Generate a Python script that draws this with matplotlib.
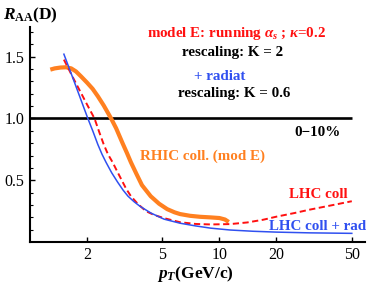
import matplotlib
matplotlib.use("Agg")
import matplotlib.pyplot as plt
from matplotlib.ticker import FixedLocator, NullLocator, NullFormatter

plt.rcParams['font.family'] = ['Liberation Serif', 'DejaVu Serif']
plt.rcParams['mathtext.fontset'] = 'custom'
plt.rcParams['mathtext.rm'] = 'Liberation Serif:bold'
plt.rcParams['mathtext.bf'] = 'Liberation Serif:bold'
plt.rcParams['mathtext.it'] = 'Liberation Serif:italic:bold'

# --- data ---
blue_x = [1.51, 1.7, 2.02, 2.15, 2.28, 2.4, 2.52, 2.7, 2.9, 3.1, 3.29, 3.55, 3.8, 4.34,
          5.1, 6.2, 7.5, 9.0, 11.4, 15, 20, 30, 50]
blue_y = [1.52, 1.31, 1.00, 0.895, 0.79, 0.71, 0.645, 0.56, 0.485, 0.42, 0.371, 0.325, 0.29, 0.235,
          0.185, 0.152, 0.13, 0.112, 0.097, 0.087, 0.08, 0.074, 0.07]

red_x = [1.51, 1.7, 2.0, 2.19, 2.32, 2.45, 2.58, 2.73, 2.9, 3.05, 3.22, 3.41, 3.7, 4.09, 4.5,
         5.1, 6.2, 7.5, 9.0, 11.4, 14, 17, 20, 25, 30, 40, 50]
red_y = [1.476, 1.32, 1.113, 1.00, 0.89, 0.79, 0.71, 0.645, 0.565, 0.50, 0.43, 0.371, 0.31, 0.25, 0.22,
         0.193, 0.16, 0.146, 0.142, 0.145, 0.158, 0.18, 0.205, 0.235, 0.262, 0.30, 0.33]

orange_x = [1.28, 1.35, 1.45, 1.55, 1.65, 1.75, 1.86, 2.0, 2.14, 2.28, 2.45, 2.68, 2.85, 3.08,
            3.25, 3.41, 3.65, 3.9, 4.34, 4.8, 5.3, 5.8, 6.2, 7.0, 7.9, 9.0, 10.0, 10.7, 11.2]
orange_y = [1.395, 1.405, 1.412, 1.414, 1.405, 1.38, 1.34, 1.29, 1.24, 1.18, 1.105, 1.0, 0.92, 0.80,
            0.72, 0.645, 0.55, 0.46, 0.37, 0.31, 0.266, 0.24, 0.226, 0.212, 0.204, 0.199, 0.194, 0.182, 0.162]

ref_level = 1.0
ref_xmax = 50

x_ticks = [2, 5, 10, 20, 50]
x_ticklabels = ['2', '5', '10', '20', '50']
y_ticks = [0.5, 1.0, 1.5]
y_ticklabels = ['0.5', '1.0', '1.5']
y_minor = [0.1, 0.2, 0.3, 0.4, 0.6, 0.7, 0.8, 0.9, 1.1, 1.2, 1.3, 1.4, 1.6, 1.7]

ORANGE = '#FF8020'
BLUE = '#3050F0'
RED = '#FF1010'

W, H = 374, 286
fig = plt.figure(figsize=(W / 100, H / 100), dpi=100)
ax = fig.add_axes([30 / W, 1 - 242 / H, 335 / W, 215 / H])

ax.set_xscale('log')
ax.set_xlim(1.0, 58.7)
ax.set_ylim(0, 1.74)

ax.hlines(ref_level, 1.0, ref_xmax, color='black', lw=1.9, zorder=1)
ax.plot(orange_x, orange_y, color=ORANGE, lw=3.0, solid_capstyle='butt', solid_joinstyle='round', zorder=2)
ax.plot(red_x, red_y, color=RED, lw=1.4, dashes=(3.2, 1.8), zorder=3)
ax.plot(blue_x, blue_y, color=BLUE, lw=1.1, zorder=4)

for s in ['top', 'right']:
    ax.spines[s].set_visible(False)
for s in ['left', 'bottom']:
    ax.spines[s].set_linewidth(1.5)

ax.xaxis.set_major_locator(FixedLocator(x_ticks))
ax.set_xticklabels(x_ticklabels)
ax.xaxis.set_minor_locator(NullLocator())
ax.xaxis.set_minor_formatter(NullFormatter())
ax.yaxis.set_major_locator(FixedLocator(y_ticks))
ax.set_yticklabels(y_ticklabels)
ax.yaxis.set_minor_locator(FixedLocator(y_minor))

ax.tick_params(axis='both', which='major', direction='in', length=3.5, width=1.0,
               labelsize=11.5, pad=4)
ax.tick_params(axis='x', which='major', pad=3.5)
ax.tick_params(axis='y', which='minor', direction='in', length=2, width=0.8)

def ftext(px, py, s, **kw):
    fig.text(px / W, 1 - py / H, s, **kw)

ftext(3, 15, r'$R_{\mathbf{AA}}$(D)', fontsize=12.5, fontweight='bold', ha='left', va='center')
ftext(195, 274, r'$p_T$(GeV/c)', fontsize=12.5, fontweight='bold', ha='center', va='center')

fs = 10.8
ftext(236, 33, r'model E: running $\alpha_s$ ; $\kappa$=0.2', color=RED, fontsize=fs,
      fontweight='bold', ha='center', va='center')
ftext(233, 52, 'rescaling: K = 2', color='black', fontsize=fs, fontweight='bold',
      ha='center', va='center')
ftext(220, 76, '+ radiat', color=BLUE, fontsize=fs, fontweight='bold', ha='center', va='center')
ftext(234, 94, 'rescaling: K = 0.6', color='black', fontsize=fs, fontweight='bold',
      ha='center', va='center')
ftext(341, 133, '0\u221210%', color='black', fontsize=fs, fontweight='bold', ha='right', va='center')
ftext(203, 156, 'RHIC coll. (mod E)', color=ORANGE, fontsize=fs, fontweight='bold',
      ha='center', va='center')
ftext(318, 194, 'LHC coll', color=RED, fontsize=fs, fontweight='bold', ha='center', va='center')
ftext(318, 226, 'LHC coll + rad', color=BLUE, fontsize=fs, fontweight='bold', ha='center', va='center')

fig.savefig('out.png', dpi=100)
